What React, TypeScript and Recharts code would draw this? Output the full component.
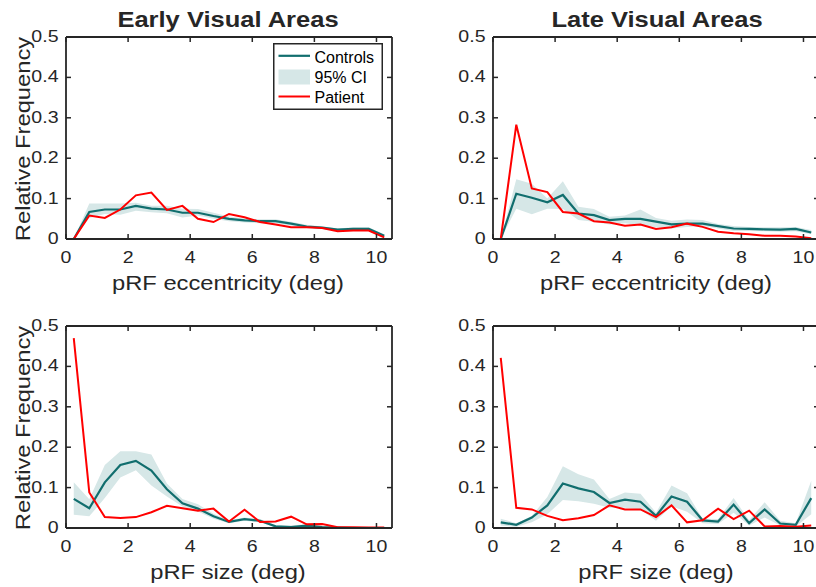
import React from 'react';
import { ComposedChart, Line, Area, XAxis, YAxis, Legend } from 'recharts';

// ---------- data ----------
const xBins = [0.25, 0.75, 1.25, 1.75, 2.25, 2.75, 3.25, 3.75, 4.25, 4.75, 5.25, 5.75, 6.25, 6.75, 7.25, 7.75, 8.25, 8.75, 9.25, 9.75, 10.25];
const xTicks = [0, 2, 4, 6, 8, 10];
const xTickLabels = ['0', '2', '4', '6', '8', '10'];
const yTicks = [0, 0.1, 0.2, 0.3, 0.4, 0.5];
const yTickLabels = ['0', '0.1', '0.2', '0.3', '0.4', '0.5'];

const earlyEccControls = [0, 0.067, 0.073, 0.073, 0.082, 0.075, 0.073, 0.065, 0.065, 0.057, 0.05, 0.046, 0.044, 0.044, 0.038, 0.031, 0.028, 0.023, 0.025, 0.025, 0.008];
const earlyEccPatient = [0, 0.058, 0.052, 0.073, 0.108, 0.115, 0.072, 0.082, 0.05, 0.042, 0.062, 0.054, 0.042, 0.036, 0.029, 0.029, 0.027, 0.019, 0.021, 0.021, 0.004];
const earlyEccLow = [0, 0.052, 0.062, 0.06, 0.07, 0.066, 0.064, 0.053, 0.058, 0.05, 0.044, 0.041, 0.039, 0.039, 0.033, 0.027, 0.025, 0.02, 0.021, 0.021, 0.005];
const earlyEccHigh = [0, 0.088, 0.088, 0.088, 0.09, 0.082, 0.082, 0.075, 0.074, 0.065, 0.056, 0.051, 0.049, 0.049, 0.043, 0.035, 0.031, 0.026, 0.029, 0.029, 0.011];

const lateEccControls = [0, 0.112, 0.102, 0.091, 0.109, 0.063, 0.059, 0.047, 0.05, 0.05, 0.043, 0.036, 0.038, 0.038, 0.032, 0.026, 0.025, 0.024, 0.023, 0.025, 0.016];
const lateEccPatient = [0, 0.283, 0.125, 0.116, 0.067, 0.063, 0.044, 0.041, 0.033, 0.036, 0.025, 0.029, 0.038, 0.03, 0.018, 0.014, 0.012, 0.008, 0.008, 0.006, 0.002];
const lateEccLow = [0, 0.075, 0.061, 0.075, 0.074, 0.047, 0.043, 0.036, 0.039, 0.034, 0.029, 0.026, 0.03, 0.032, 0.026, 0.02, 0.02, 0.019, 0.018, 0.019, 0.012];
const lateEccHigh = [0, 0.148, 0.137, 0.1, 0.143, 0.08, 0.074, 0.055, 0.058, 0.073, 0.052, 0.045, 0.048, 0.047, 0.037, 0.032, 0.03, 0.029, 0.029, 0.03, 0.022];

const earlySizeControls = [0.072, 0.049, 0.113, 0.156, 0.166, 0.142, 0.096, 0.061, 0.048, 0.029, 0.015, 0.022, 0.018, 0.004, 0.002, 0.006, 0.002, 0.001, 0, 0, 0];
const earlySizePatient = [0.47, 0.088, 0.027, 0.025, 0.027, 0.039, 0.055, 0.049, 0.043, 0.048, 0.016, 0.045, 0.015, 0.016, 0.028, 0.009, 0.01, 0.002, 0.002, 0.001, 0.001];
const earlySizeLow = [0.033, 0.029, 0.074, 0.125, 0.143, 0.105, 0.078, 0.053, 0.041, 0.023, 0.012, 0.018, 0.014, 0.002, 0.001, 0.003, 0.001, 0, 0, 0, 0];
const earlySizeHigh = [0.113, 0.071, 0.156, 0.19, 0.19, 0.182, 0.11, 0.072, 0.059, 0.035, 0.019, 0.026, 0.022, 0.007, 0.006, 0.009, 0.004, 0.002, 0.002, 0.001, 0.001];

const lateSizeControls = [0.014, 0.008, 0.026, 0.056, 0.11, 0.098, 0.089, 0.062, 0.07, 0.065, 0.03, 0.078, 0.065, 0.019, 0.016, 0.058, 0.012, 0.046, 0.011, 0.008, 0.074];
const lateSizePatient = [0.421, 0.05, 0.046, 0.03, 0.019, 0.024, 0.032, 0.056, 0.046, 0.046, 0.027, 0.056, 0.014, 0.019, 0.048, 0.022, 0.043, 0.004, 0.005, 0.003, 0.006];
const lateSizeLow = [0.006, 0.003, 0.014, 0.034, 0.069, 0.066, 0.06, 0.05, 0.05, 0.046, 0.018, 0.054, 0.04, 0.012, 0.01, 0.038, 0.006, 0.026, 0.006, 0.004, 0.034];
const lateSizeHigh = [0.023, 0.012, 0.03, 0.077, 0.153, 0.133, 0.12, 0.072, 0.088, 0.085, 0.038, 0.105, 0.086, 0.023, 0.022, 0.074, 0.019, 0.064, 0.018, 0.012, 0.117];

const seriesNames = ['Controls', '95% CI', 'Patient'];
const titles = ['Early Visual Areas', 'Late Visual Areas'];
const xLabels = ['pRF eccentricity (deg)', 'pRF size (deg)'];
const yLabel = 'Relative Frequency';

// ---------- style ----------
const AXIS = '#262626';
const TEAL = '#116e6e';
const CI_FILL = '#d6e7e7';
const RED = '#ff0000';
const FONT = '"Liberation Sans", Arial, Helvetica, sans-serif';
const TICK_FONT = 17;
const SX = 1.15;

function buildRows(c: number[], p: number[], lo: number[], hi: number[]) {
  return xBins.map((x, i) => ({ x, controls: c[i], patient: p[i], ci: [lo[i], hi[i]] }));
}

function SText(props: any) {
  const { x, y, children, size, anchor = 'middle', sx = SX, rotate = 0, weight = 'normal' } = props;
  return (
    <text
      transform={`translate(${x},${y}) rotate(${rotate}) scale(${sx},1)`}
      textAnchor={anchor}
      fontSize={size}
      fontFamily={FONT}
      fontWeight={weight}
      fill={AXIS}
    >
      {children}
    </text>
  );
}

const BottomTick = (props: any) => {
  const { x, y, payload } = props;
  const i = xTicks.indexOf(payload.value);
  return (
    <g>
      <line x1={x} y1={y} x2={x} y2={y - 5} stroke={AXIS} strokeWidth={1.5} />
      <SText x={x} y={y + 24} size={TICK_FONT}>{xTickLabels[i]}</SText>
    </g>
  );
};
const TopTick = (props: any) => {
  const { x, y } = props;
  return <line x1={x} y1={y} x2={x} y2={y + 5} stroke={AXIS} strokeWidth={1.5} />;
};
const LeftTick = (props: any) => {
  const { x, y, payload } = props;
  const i = yTicks.indexOf(payload.value);
  return (
    <g>
      <line x1={x} y1={y} x2={x + 5} y2={y} stroke={AXIS} strokeWidth={1.5} />
      <SText x={x - 7.5} y={y + 5} size={TICK_FONT} anchor="end">{yTickLabels[i]}</SText>
    </g>
  );
};
const RightTick = (props: any) => {
  const { x, y } = props;
  return <line x1={x} y1={y} x2={x - 5} y2={y} stroke={AXIS} strokeWidth={1.5} />;
};

const LegendBox = () => (
  <svg width={110} height={67} style={{ display: 'block' }}>
    <rect x={0.75} y={0.75} width={108.5} height={65.5} fill="#fff" stroke={AXIS} strokeWidth={1.5} />
    <line x1={5.5} y1={12.8} x2={37} y2={12.8} stroke={TEAL} strokeWidth={2.2} />
    <text x={41.5} y={19.5} fontSize={16} fontFamily={FONT} fill="#000">{seriesNames[0]}</text>
    <rect x={5.5} y={26.5} width={31.5} height={15} fill={CI_FILL} />
    <text x={41.5} y={39.5} fontSize={16} fontFamily={FONT} fill="#000">{seriesNames[1]}</text>
    <line x1={5.5} y1={53.5} x2={37} y2={53.5} stroke={RED} strokeWidth={2} />
    <text x={41.5} y={59.5} fontSize={16} fontFamily={FONT} fill="#000">{seriesNames[2]}</text>
  </svg>
);

const CH_W = 430;
const CH_H = 300;

function Panel(props: any) {
  const { rows, left, top, withLegend } = props;
  return (
    <div style={{ position: 'absolute', left, top, width: CH_W, height: CH_H }}>
      <ComposedChart width={CH_W} height={CH_H} data={rows} margin={{ top: 0, right: 0, bottom: 0, left: 0 }}>
        <XAxis
          dataKey="x"
          type="number"
          domain={[0, 10.5]}
          ticks={xTicks}
          allowDataOverflow
          height={61}
          tickSize={0}
          tickMargin={0}
          tickLine={false}
          axisLine={{ stroke: AXIS, strokeWidth: 1.8 }}
          tick={BottomTick}
          interval={0}
        />
        <XAxis
          xAxisId="top"
          orientation="top"
          dataKey="x"
          type="number"
          domain={[0, 10.5]}
          ticks={xTicks}
          allowDataOverflow
          height={37}
          tickSize={0}
          tickMargin={0}
          tickLine={false}
          axisLine={{ stroke: AXIS, strokeWidth: 1.8 }}
          tick={TopTick}
          interval={0}
        />
        <YAxis
          type="number"
          domain={[0, 0.5]}
          ticks={yTicks}
          allowDataOverflow
          width={66}
          tickSize={0}
          tickMargin={0}
          tickLine={false}
          axisLine={{ stroke: AXIS, strokeWidth: 1.8 }}
          tick={LeftTick}
          interval={0}
        />
        <YAxis
          yAxisId="right"
          orientation="right"
          type="number"
          domain={[0, 0.5]}
          ticks={yTicks}
          allowDataOverflow
          width={38}
          tickSize={0}
          tickMargin={0}
          tickLine={false}
          axisLine={{ stroke: AXIS, strokeWidth: 1.8 }}
          tick={RightTick}
          interval={0}
        />
        <Area
          type="linear"
          dataKey="ci"
          name={seriesNames[1]}
          stroke="none"
          fill={CI_FILL}
          fillOpacity={1}
          isAnimationActive={false}
        />
        <Line
          type="linear"
          dataKey="controls"
          name={seriesNames[0]}
          stroke={TEAL}
          strokeWidth={2.2}
          dot={false}
          activeDot={false}
          isAnimationActive={false}
        />
        <Line
          type="linear"
          dataKey="patient"
          name={seriesNames[2]}
          stroke={RED}
          strokeWidth={2}
          dot={false}
          activeDot={false}
          isAnimationActive={false}
        />
        {withLegend ? (
          <Legend
            layout="horizontal"
            verticalAlign="middle"
            align="center"
            wrapperStyle={{ left: 273, top: 42.5, width: 110, height: 67 }}
            content={() => <LegendBox />}
          />
        ) : null}
      </ComposedChart>
    </div>
  );
}

const rowsEarlyEcc = buildRows(earlyEccControls, earlyEccPatient, earlyEccLow, earlyEccHigh);
const rowsLateEcc = buildRows(lateEccControls, lateEccPatient, lateEccLow, lateEccHigh);
const rowsEarlySize = buildRows(earlySizeControls, earlySizePatient, earlySizeLow, earlySizeHigh);
const rowsLateSize = buildRows(lateSizeControls, lateSizePatient, lateSizeLow, lateSizeHigh);

export default function App() {
  return (
    <div style={{ position: 'absolute', left: 0, top: 0, width: 816, height: 587, overflow: 'hidden', background: '#fff' }}>
      <Panel rows={rowsEarlyEcc} left={0} top={0} withLegend />
      <Panel rows={rowsLateEcc} left={427} top={0} />
      <Panel rows={rowsEarlySize} left={0} top={289} />
      <Panel rows={rowsLateSize} left={427} top={289} />
      <svg width={816} height={587} style={{ position: 'absolute', left: 0, top: 0, pointerEvents: 'none' }}>
        <SText x={228} y={26.5} size={22} weight="bold" sx={1.16}>{titles[0]}</SText>
        <SText x={657} y={26.5} size={22} weight="bold" sx={1.16}>{titles[1]}</SText>
        <SText x={228} y={289.5} size={21} sx={1.13}>{xLabels[0]}</SText>
        <SText x={656} y={289.5} size={21} sx={1.13}>{xLabels[0]}</SText>
        <SText x={228} y={578.5} size={21} sx={1.13}>{xLabels[1]}</SText>
        <SText x={656} y={578.5} size={21} sx={1.13}>{xLabels[1]}</SText>
        <SText x={29.5} y={139} size={21} sx={1.13} rotate={-90}>{yLabel}</SText>
        <SText x={29.5} y={428} size={21} sx={1.13} rotate={-90}>{yLabel}</SText>
      </svg>
    </div>
  );
}
